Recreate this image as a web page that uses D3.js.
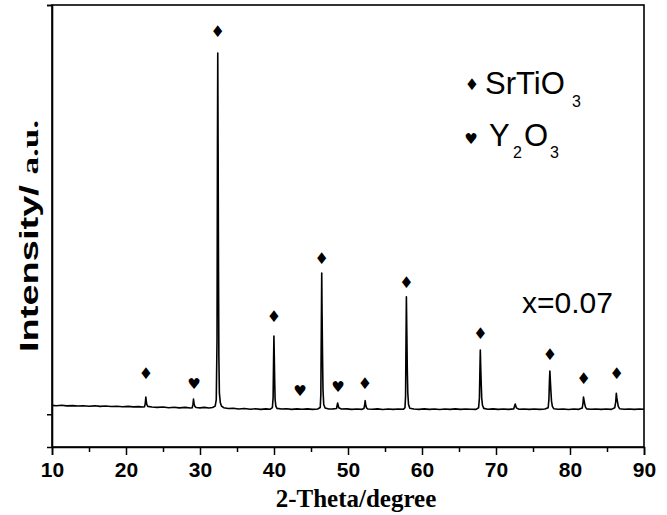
<!DOCTYPE html>
<html><head><meta charset="utf-8">
<script src="https://cdn.jsdelivr.net/npm/d3@7/dist/d3.min.js"></script>
<style>body{margin:0;background:#fff}svg{display:block}</style>
</head><body>
<svg id="c" width="667" height="515"></svg>
<script>
// ---- data ----
const twoTheta = [10,10.6,11.3,12,12.8,13.5,14.2,15,15.8,16.5,17.2,18,18.8,19.5,20.3,21,21.7,22.3,
22.5,22.6,22.68,22.75,22.82,22.95,
23.5,24.2,25,25.8,26.5,27.2,28,28.7,
28.95,29.05,29.12,29.2,29.3,29.5,
30,30.6,31.2,31.7,32.05,
32.2,32.3,32.36,32.4,32.45,32.5,32.55,32.62,32.75,32.9,
33.2,33.8,34.5,35.2,36,36.8,37.5,38.2,38.9,39.5,39.78,
39.88,39.94,39.99,40.04,40.09,40.15,40.25,40.4,
41,41.7,42.4,43.1,43.8,44.5,45.2,45.9,46.25,
46.33,46.4,46.45,46.5,46.56,46.62,46.72,46.9,
47.4,48,48.45,48.6,48.75,49.1,49.8,50.5,51.2,51.9,52.15,
52.25,52.32,52.4,52.5,52.7,
53.3,54,54.7,55.4,56.1,56.8,57.5,57.7,
57.78,57.84,57.89,57.95,58.01,58.08,58.18,58.35,
58.9,59.6,60.3,61,61.7,62.4,63.1,63.8,64.5,65.2,65.9,66.6,67.3,67.65,
67.76,67.83,67.88,67.94,68.0,68.07,68.17,68.35,
68.9,69.6,70.3,71,71.7,72.4,72.6,72.75,73.1,73.8,74.5,75.2,75.9,76.6,77.05,
77.15,77.22,77.28,77.35,77.42,77.5,77.62,77.8,
78.4,79.1,79.8,80.5,81.2,81.65,
81.75,81.82,81.9,81.98,82.08,82.25,
82.8,83.5,84.2,84.9,85.6,86.05,
86.18,86.26,86.33,86.42,86.52,86.7,
87.3,88,88.7,89.4,90];
const intensity = [108,104,110,102,106,100,104,98,103,96,100,94,98,92,96,90,93,88,
92,130,211,150,118,96,
88,84,88,80,85,78,84,76,
80,120,186,130,96,82,
78,84,76,82,100,
180,900,3300,4414,3200,1800,700,260,140,100,
80,70,74,64,70,62,68,60,66,62,80,
200,640,956,700,420,180,100,72,
64,68,60,66,62,66,60,64,82,
240,1100,1726,1200,700,300,120,76,
64,66,70,138,80,64,66,60,64,60,70,
110,166,110,78,64,
62,66,58,64,60,64,62,80,
220,900,1436,1000,560,260,120,74,
64,60,66,60,64,58,64,60,66,60,64,62,60,80,
200,560,785,560,380,200,110,72,
62,66,60,64,60,66,125,78,62,64,60,64,60,64,80,
180,400,528,400,280,160,96,68,
62,64,58,64,60,76,
130,211,170,130,90,66,
62,64,60,64,60,80,
150,256,200,150,96,68,
62,64,60,64,62];

// phase markers: SrTiO3 (diamond) and Y2O3 (heart)
const srtioPos = [22.7,32.4,40.0,46.45,52.3,57.9,67.9,77.3,81.85,86.3];
const srtioY   = [504,4674,1200,1909,378,1612,989,724,434,500];
const y2o3Pos  = [29.2,43.5,48.65];
const y2o3Y    = [370,288,327];

const xTicks = [10,20,30,40,50,60,70,80,90];
const xMinor = [15,25,35,45,55,65,75,85];
const yTicks = [0,5000];

// ---- drawing ----
const svg = d3.select('#c');
const L=52, R=644, T=5, B=447;
const x = d3.scaleLinear().domain([10,90]).range([L,R]);
const y = d3.scaleLinear().domain([-400,5000]).range([B,T]);

// frame
svg.append('rect').attr('x',L).attr('y',T).attr('width',R-L).attr('height',B-T)
  .attr('fill','none').attr('stroke','#000').attr('stroke-width',1.6);

// bottom axis
const gx = svg.append('g').attr('transform',`translate(0,${B})`)
  .call(d3.axisBottom(x).tickValues(xTicks).tickSize(8).tickFormat(d3.format('d')));
gx.select('.domain').attr('stroke-width',1.6);
gx.selectAll('.tick line').attr('stroke-width',1.5);
gx.selectAll('.tick text').attr('font-family','Liberation Sans, Arial, sans-serif')
  .attr('font-weight','bold').attr('font-size',21).attr('dy','0.92em').attr('fill','#000');
const gxm = svg.append('g').attr('transform',`translate(0,${B})`)
  .call(d3.axisBottom(x).tickValues(xMinor).tickSize(5).tickFormat(''));
gxm.select('.domain').remove();
gxm.selectAll('.tick line').attr('stroke-width',1.5);

// left axis
const gy = svg.append('g').attr('transform',`translate(${L},0)`)
  .call(d3.axisLeft(y).tickValues(yTicks).tickSize(5).tickFormat(''));
gy.select('.domain').attr('stroke-width',1.6);
gy.selectAll('.tick line').attr('stroke-width',1.5);

// data line
const line = d3.line().x((d,i)=>x(twoTheta[i])).y((d,i)=>y(intensity[i]));
svg.append('path').datum(intensity).attr('d',line)
  .attr('fill','none').attr('stroke','#000').attr('stroke-width',1.6).attr('stroke-linejoin','round');

// markers
svg.append('g').selectAll('text').data(srtioPos).join('text')
  .attr('x',(d)=>x(d)).attr('y',(d,i)=>y(srtioY[i]))
  .attr('text-anchor','middle').attr('dominant-baseline','central')
  .attr('font-family','DejaVu Sans').attr('font-size',16).text('\u2666');
svg.append('g').selectAll('text').data(y2o3Pos).join('text')
  .attr('x',(d)=>x(d)).attr('y',(d,i)=>y(y2o3Y[i]))
  .attr('text-anchor','middle').attr('dominant-baseline','central')
  .attr('font-family','DejaVu Sans').attr('font-size',15).text('\u2665');

// legend
const lf = 'Liberation Sans, Arial, sans-serif';
svg.append('text').attr('x',472).attr('y',84).attr('text-anchor','middle').attr('dominant-baseline','central')
  .attr('font-family','DejaVu Sans').attr('font-size',16).text('\u2666');
svg.append('text').attr('x',485).attr('y',94).attr('font-family',lf).attr('font-size',31).text('SrTiO');
svg.append('text').attr('x',572).attr('y',107).attr('font-family',lf).attr('font-size',16).text('3');
svg.append('text').attr('x',471).attr('y',139).attr('text-anchor','middle').attr('dominant-baseline','central')
  .attr('font-family','DejaVu Sans').attr('font-size',15).text('\u2665');
svg.append('text').attr('x',489).attr('y',146).attr('font-family',lf).attr('font-size',31).text('Y');
svg.append('text').attr('x',513).attr('y',158).attr('font-family',lf).attr('font-size',16).text('2');
svg.append('text').attr('x',524).attr('y',146).attr('font-family',lf).attr('font-size',31).text('O');
svg.append('text').attr('x',550).attr('y',158).attr('font-family',lf).attr('font-size',16).text('3');

svg.append('text').attr('x',522).attr('y',313).attr('font-family',lf).attr('font-size',30).text('x=0.07');

// axis titles
svg.append('text').attr('x',(L+R)/2+8).attr('y',507).attr('text-anchor','middle')
  .attr('font-family','Liberation Serif, Times New Roman, serif').attr('font-weight','bold')
  .attr('font-size',25).text('2-Theta/degree');
const yt = svg.append('text').attr('transform','translate(38,236) rotate(-90)').attr('text-anchor','middle')
  .attr('font-weight','bold').attr('textLength',232).attr('lengthAdjust','spacingAndGlyphs');
yt.append('tspan').attr('font-family',lf).attr('font-size',26).text('Intensity/ ');
yt.append('tspan').attr('font-family','Liberation Serif, Times New Roman, serif').attr('font-size',24).text('a.u.');
</script>
</body></html>
